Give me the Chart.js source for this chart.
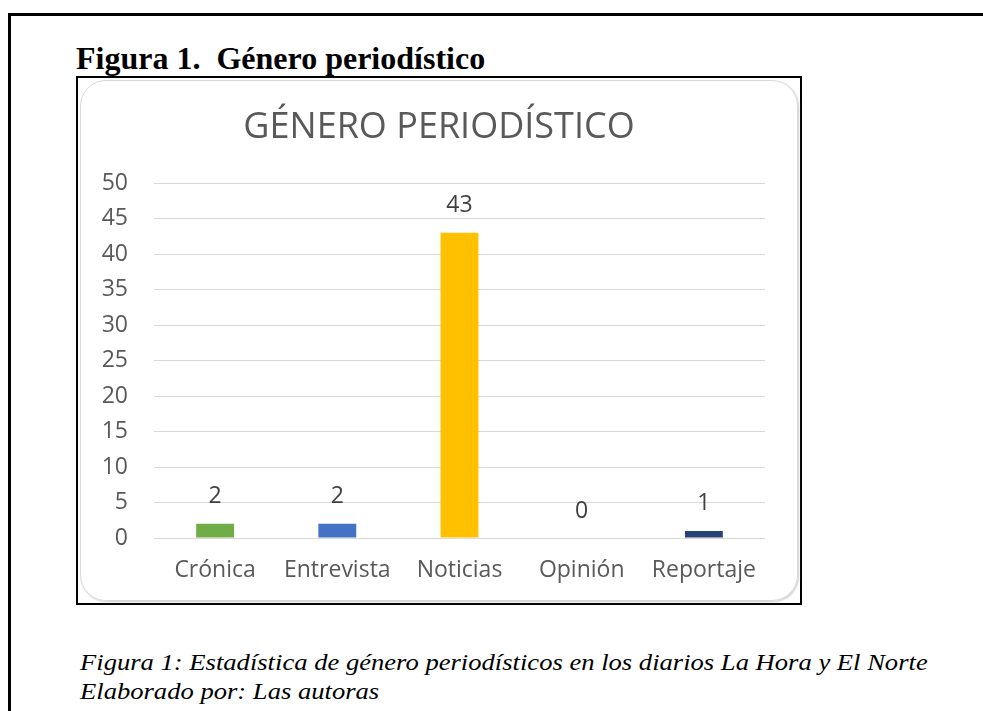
<!DOCTYPE html>
<html>
<head>
<meta charset="utf-8">
<script src="https://cdn.jsdelivr.net/npm/chart.js@4"></script>
<style>
  body { margin: 0; background: #fff; width: 983px; height: 711px; overflow: hidden; position: relative; }
  #marco { position: absolute; left: 8px; top: 13px; width: 1000px; height: 760px; border: 3px solid #000; }
  #titulo { position: absolute; left: 76px; top: 40px; font: bold 32px "Liberation Serif", "Times New Roman", serif; color: #000; white-space: nowrap; }
  #caja { position: absolute; left: 76px; top: 76px; width: 722px; height: 525px; border: 2px solid #000; background: #fff; }
  #redondo { position: absolute; left: 2px; top: 2px; right: 2px; bottom: 2px; border: 1px solid #d9d9d9; border-radius: 26px; box-shadow: 1px 1px 2px #ccc; }
  #grafico { position: absolute; left: 0; top: 0; }
  #pie { position: absolute; left: 80px; top: 648px; font: italic 24px "Liberation Serif", "Times New Roman", serif; line-height: 29px; color: #000; white-space: nowrap; transform: scaleX(1.108); transform-origin: 0 0; }
</style>
</head>
<body>
<div id="marco"></div>
<div id="titulo">Figura 1.&nbsp; Género periodístico</div>
<div id="caja">
  <div id="redondo"></div>
  <canvas id="grafico" width="722" height="525"></canvas>
</div>
<div id="pie">Figura 1: Estadística de género periodísticos en los diarios La Hora y El Norte<br>Elaborado por: Las autoras</div>

<script>
const categorias = ['Crónica', 'Entrevista', 'Noticias', 'Opinión', 'Reportaje'];
const valores = [2, 2, 43, 0, 1];
const colores = ['#70AD47', '#4472C4', '#FFC000', '#A5A5A5', '#264478'];
const ticksY = [0, 5, 10, 15, 20, 25, 30, 35, 40, 45, 50];

const fuente = '"Open Sans", "Noto Sans", sans-serif';

// etiquetas de valor encima de cada barra
const etiquetas = {
  id: 'etiquetas',
  afterDatasetsDraw(chart) {
    const ctx = chart.ctx;
    const meta = chart.getDatasetMeta(0);
    ctx.save();
    ctx.font = '23px ' + fuente;
    ctx.fillStyle = '#404040';
    ctx.textAlign = 'center';
    ctx.textBaseline = 'middle';
    meta.data.forEach(function (barra, i) {
      ctx.fillText(String(valores[i]), barra.x, barra.y - 27);
    });
    ctx.restore();
  }
};

const config = {
  type: 'bar',
  data: {
    labels: categorias,
    datasets: [{
      label: 'Género periodístico',
      data: valores,
      backgroundColor: colores,
      borderWidth: 0,
      categoryPercentage: 1,
      barPercentage: 0.31
    }]
  },
  plugins: [etiquetas],
  options: {
    responsive: false,
    animation: false,
    layout: { padding: { left: 0, right: 0, top: 0, bottom: 0 } },
    plugins: {
      legend: { display: false },
      tooltip: { enabled: false },
      title: {
        display: true,
        text: 'GÉNERO PERIODÍSTICO',
        color: '#595959',
        font: { family: fuente, size: 36, weight: 'normal' },
        padding: { top: 28, bottom: 34 }
      }
    },
    scales: {
      x: {
        grid: { display: false, drawTicks: false },
        border: { display: false },
        ticks: {
          color: '#595959',
          font: { family: fuente, size: 23, lineHeight: 1 },
          padding: 21,
          maxRotation: 0,
          autoSkip: false
        }
      },
      y: {
        min: 0,
        max: 50,
        afterBuildTicks(axis) {
          axis.ticks = ticksY.map(v => ({ value: v }));
        },
        afterFit(axis) { axis.width = 76; },
        grid: { color: '#d9d9d9', lineWidth: 1, drawTicks: false },
        border: { display: false },
        ticks: {
          color: '#595959',
          font: { family: fuente, size: 23 },
          padding: 26
        }
      },
      // eje vacío a la derecha, solo reserva el margen
      yDer: {
        position: 'right',
        grid: { display: false, drawTicks: false },
        border: { display: false },
        ticks: { display: false },
        afterFit(axis) { axis.width = 35; }
      }
    }
  }
};

new Chart(document.getElementById('grafico'), config);
</script>
</body>
</html>
